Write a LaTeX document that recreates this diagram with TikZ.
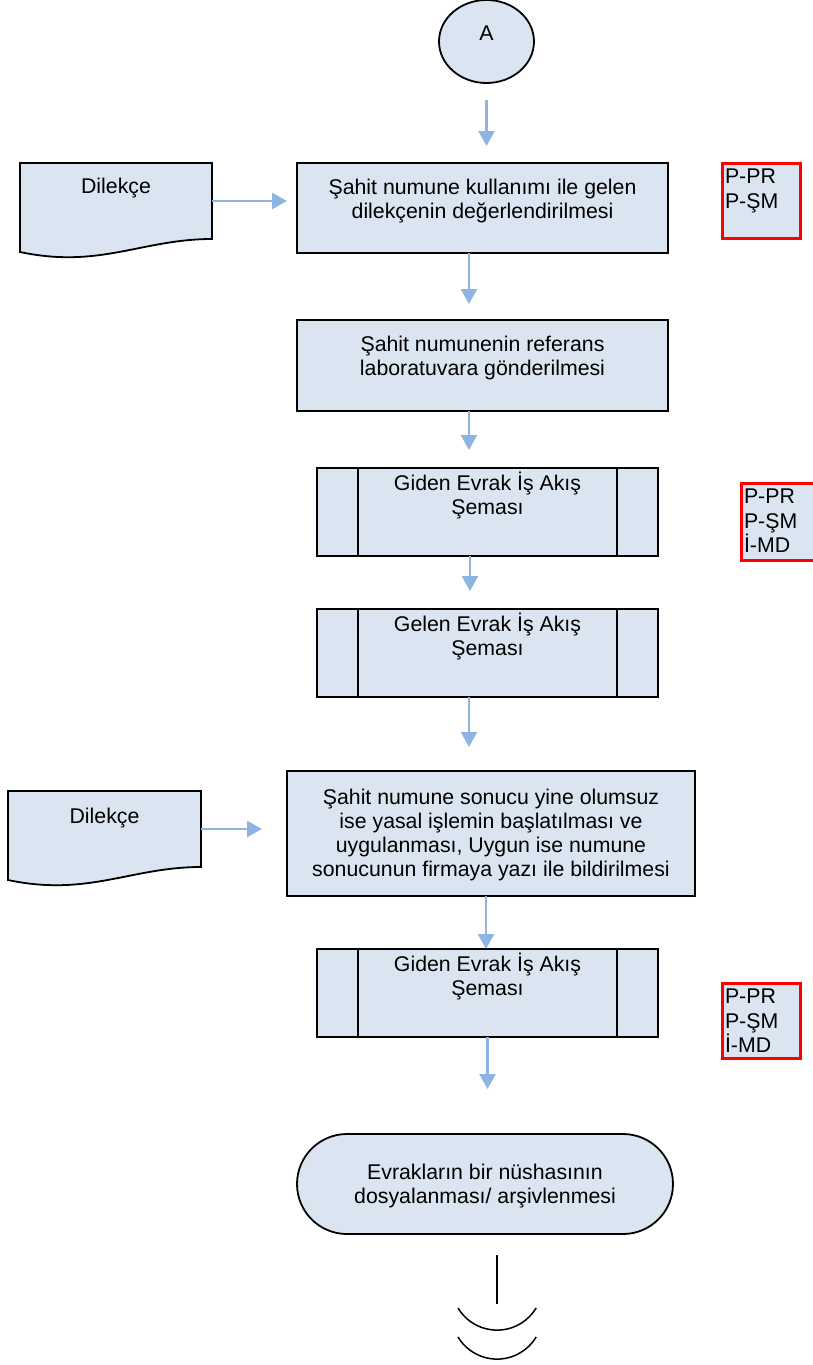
\documentclass[tikz,border=0pt]{standalone}
\usepackage{fontspec}
\setmainfont{Liberation Sans}
\usepackage{tikz}
\usetikzlibrary{positioning,arrows.meta,shapes.geometric,shapes.misc,backgrounds}
\definecolor{boxfill}{RGB}{219,229,241}
\definecolor{flowline}{RGB}{141,180,227}
\definecolor{refred}{RGB}{255,0,0}
\tikzstyle{signal}=[-{Triangle[length=15pt,width=16pt]},draw=flowline,line width=2.5pt]
\tikzstyle{block}=[draw=black,line width=1.8pt,fill=boxfill,inner sep=2pt,outer sep=0pt,
    font=\fontsize{21.3}{24.3}\selectfont,align=center,text height=15.3pt]
\def\boxwidth{371pt}
\def\subwidth{341pt}
\def\subbar{41pt}
\tikzstyle{proc}=[style=block, rectangle, minimum width=\boxwidth, text height=39.6pt, text depth=18.7pt]
\tikzstyle{subproc}=[style=block, rectangle, minimum width=\subwidth, minimum height=88pt,
    text height=39.6pt, text depth=34pt,
    path picture={\draw[line width=1.8pt]
      ([xshift=\subbar]path picture bounding box.north west) -- ([xshift=\subbar]path picture bounding box.south west)
      ([xshift=-\subbar]path picture bounding box.north east) -- ([xshift=-\subbar]path picture bounding box.south east);}]
\tikzstyle{docbox}=[style=block, rectangle, draw=none, fill=none, minimum width=192pt, minimum height=76pt]
\tikzstyle{refbox}=[style=block, rectangle, draw=refred, line width=3pt, anchor=north west,
    align=left, text width=72pt, inner xsep=3pt, inner ysep=5.5pt]
\tikzstyle{terminal}=[style=block, rounded rectangle, minimum width=380pt, minimum height=100pt,
    text height=39.6pt, text depth=-15pt]
\tikzstyle{connector}=[style=block, ellipse, minimum width=95pt, minimum height=83pt, text depth=18.3pt]

\begin{document}
\begin{tikzpicture}[x=1pt,y=-1pt]
    \useasboundingbox (0,0) rectangle (812,1365);
    % main flow
    \node[connector] (A) at (486.5,41.5) {A};
    \node[proc, minimum height=90pt] (b1) at (482.5,208) {Şahit numune kullanımı ile gelen\\dilekçenin değerlendirilmesi};
    \node[proc, minimum height=91pt, below=67pt of b1] (b2) {Şahit numunenin referans\\laboratuvara gönderilmesi};
    \node[subproc, below=57pt of b2, xshift=5pt] (g1) {Giden Evrak İş Akış\\Şeması};
    \node[subproc, below=53pt of g1] (g2) {Gelen Evrak İş Akış\\Şeması};
    \node[proc, minimum width=408pt, minimum height=125pt, text height=88.2pt, text depth=1.4pt,
        below=74pt of g2, xshift=3.5pt] (b5)
        {Şahit numune sonucu yine olumsuz\\ise yasal işlemin başlatılması ve\\uygulanması, Uygun ise numune\\sonucunun firmaya yazı ile bildirilmesi};
    \node[subproc, below=53pt of b5, xshift=-3.5pt] (g3) {Giden Evrak İş Akış\\Şeması};
    \node[terminal, below=97pt of g3, xshift=-2.5pt] (arsiv) {Evrakların bir nüshasının\\dosyalanması/ arşivlenmesi};

    % incoming documents
    \node[docbox, text depth=31.3pt, left=85pt of b1, yshift=7pt] (dil1) {Dilekçe};
    \node[docbox, minimum width=193pt, text depth=27.3pt, left=86pt of b5, yshift=4.5pt] (dil2) {Dilekçe};
    \begin{scope}[on background layer]
        \foreach \d in {dil1,dil2}
            \filldraw[draw=black, line width=1.8pt, fill=boxfill] (\d.south east) -- (\d.north east) -- (\d.north west)
                -- ([yshift=-13pt]\d.south west) .. controls ([xshift=80pt,yshift=-30pt]\d.south west)
                and ([xshift=-70pt]\d.south east) .. (\d.south east) -- cycle;
    \end{scope}

    % references
    \node[refbox, text depth=48.7pt] (r1) at (722,163) {P-PR\\P-ŞM};
    \node[refbox, text depth=50.7pt] (r2) at (741,483) {P-PR\\P-ŞM\\İ-MD};
    \node[refbox, text depth=48.7pt] (r3) at (722,983) {P-PR\\P-ŞM\\İ-MD};

    % connectors
    \draw[signal, shorten <=17pt, shorten >=17pt] (A.south) -- (A.south |- b1.north);
    \draw[signal, shorten >=10pt] (dil1.east) -- (dil1.east -| b1.west);
    \draw[signal, shorten >=25pt] (dil2.east) -- (dil2.east -| b5.west);
    \foreach \a/\b/\dx/\gap in {b1/b2/-13.5/16, b2/g1/-13.5/18, g1/g2/-17.5/18, g2/b5/-18.5/24, b5/g3/-5/0, g3/arsiv/0/45}
        \draw[signal, shorten >=\gap pt] ([xshift=\dx pt]\a.south) -- ([xshift=\dx pt]\a.south |- \b.north);

    % continuation mark
    \coordinate (cont) at (497,1255);
    \draw[line width=1.5pt] (cont) -- ++(0,49);
    \draw[line width=1.5pt] (458,1308) arc[start angle=149, end angle=31, radius=45.6];
    \draw[line width=1.5pt] (458,1337) arc[start angle=149, end angle=31, radius=45.6];
\end{tikzpicture}
\end{document}
